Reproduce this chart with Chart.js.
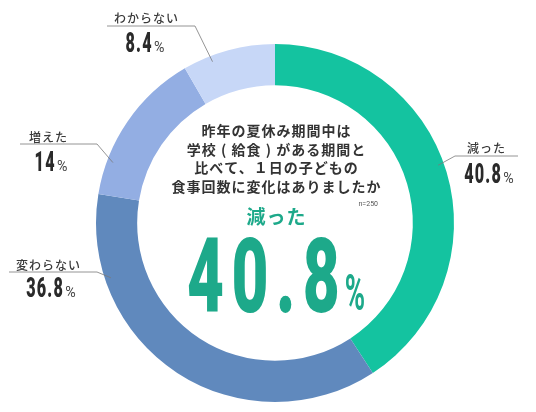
<!DOCTYPE html>
<html lang="ja">
<head>
<meta charset="utf-8">
<title>夏休み期間中の食事回数の変化</title>
<script src="https://cdn.jsdelivr.net/npm/chart.js@4.4.1/dist/chart.umd.min.js"></script>
<style>
  html, body { margin: 0; padding: 0; background: #ffffff; }
  #contenedor { width: 536px; height: 412px; }
</style>
</head>
<body>
<div id="contenedor"><canvas id="grafico1" width="536" height="412"></canvas></div>
<script>
//DATOS DEL GRÁFICO (PORCENTAJES, n=250).
const categorias = ['減った', '変わらない', '増えた', 'わからない'];
const porcentajes = [40.8, 36.8, 14, 8.4];
const preguntaLineas = ['昨年の夏休み期間中は', '学校 ( 給食 ) がある期間と', '比べて、１日の子どもの', '食事回数に変化はありましたか'];
const muestra = 'n=250';

//COLORES DE CADA SEGMENTO.
const colores = ['#14C3A0', '#6089BD', '#93AEE3', '#C7D7F7'];

//POSICIÓN DE LAS ETIQUETAS EXTERIORES (f = PUNTO DEL SEGMENTO DONDE TERMINA LA LÍNEA GUÍA).
const etiquetas = [
    { nombreX: 486, nombreY: 148, numeroX: 489, numeroY: 183, lineaX: [518, 455], lineaY: 156, f: 0.48 },
    { nombreX: 48,  nombreY: 265, numeroX: 51,  numeroY: 297, lineaX: [9, 97],    lineaY: 272, f: 0.79 },
    { nombreX: 48,  nombreY: 137, numeroX: 51,  numeroY: 171, lineaX: [20, 97],   lineaY: 144, f: 0.22 },
    { nombreX: 146, nombreY: 18,  numeroX: 145, numeroY: 52,  lineaX: [107, 195], lineaY: 26,  f: 0.30 }
];


//FUNCIÓN PARA DIBUJAR UN NÚMERO CONDENSADO SEGUIDO DEL SIGNO %.
function dibujarNumero(ctx, texto, cx, base, o) {
    ctx.save();
    ctx.textAlign = 'left';
    ctx.textBaseline = 'alphabetic';
    const fuenteNum = o.peso + ' ' + o.tam + 'px Roboto';
    const fuentePct = o.pesoPct + ' ' + o.tamPct + 'px Roboto';
    ctx.font = fuenteNum;
    ctx.letterSpacing = o.espacio + 'px';
    const anchoNum = (ctx.measureText(texto).width - o.espacio) * o.escala;
    ctx.letterSpacing = '0px';
    ctx.font = fuentePct;
    const anchoPct = ctx.measureText('%').width * o.escalaPct;
    const x0 = cx - (anchoNum + o.gap + anchoPct) / 2;

    ctx.save();
    ctx.fillStyle = o.color;
    ctx.font = fuenteNum;
    ctx.letterSpacing = o.espacio + 'px';
    ctx.translate(x0, base);
    ctx.scale(o.escala, 1);
    ctx.fillText(texto, 0, 0);
    ctx.restore();

    ctx.save();
    ctx.fillStyle = o.colorPct;
    ctx.font = fuentePct;
    ctx.letterSpacing = '0px';
    ctx.translate(x0 + anchoNum + o.gap, base + o.bajaPct);
    ctx.scale(o.escalaPct, 1);
    ctx.fillText('%', 0, 0);
    ctx.restore();
    ctx.restore();
}


//PLUGIN PARA LAS ETIQUETAS, LÍNEAS GUÍA Y TEXTO CENTRAL.
const pluginTextos = {
    id: 'textos',
    afterDraw(chart) {
        const ctx = chart.ctx;
        const arcos = chart.getDatasetMeta(0).data;
        const cx = arcos[0].x;
        const cy = arcos[0].y;

        //ETIQUETAS EXTERIORES.
        arcos.forEach((arco, i) => {
            const e = etiquetas[i];
            const p = arco.getProps(['startAngle', 'endAngle', 'outerRadius'], true);
            const ang = p.startAngle + e.f * (p.endAngle - p.startAngle);
            const r = p.outerRadius - 6;
            const px = cx + r * Math.cos(ang);
            const py = cy + r * Math.sin(ang);

            ctx.save();
            ctx.strokeStyle = '#7a7a7a';
            ctx.lineWidth = 0.8;
            ctx.beginPath();
            ctx.moveTo(e.lineaX[0], e.lineaY);
            ctx.lineTo(e.lineaX[1], e.lineaY);
            ctx.lineTo(px, py);
            ctx.stroke();

            ctx.fillStyle = '#3a3a3a';
            ctx.font = '500 12px "Noto Sans CJK JP"';
            ctx.letterSpacing = '1px';
            ctx.textAlign = 'center';
            ctx.textBaseline = 'middle';
            ctx.fillText(categorias[i], e.nombreX + 0.5, e.nombreY);
            ctx.restore();

            dibujarNumero(ctx, String(porcentajes[i]), e.numeroX, e.numeroY, {
                tam: 27, peso: '900', escala: 0.6, espacio: 2, color: '#2a2a2a',
                tamPct: 15, pesoPct: 'normal', escalaPct: 0.95, colorPct: '#444444',
                gap: 2.5, bajaPct: 0
            });
        });

        //PREGUNTA EN EL CENTRO.
        ctx.save();
        ctx.fillStyle = '#333333';
        ctx.font = 'bold 14px "Noto Sans CJK JP"';
        ctx.letterSpacing = '1px';
        ctx.textAlign = 'center';
        ctx.textBaseline = 'middle';
        const offsets = [-92, -73.5, -55, -36];
        preguntaLineas.forEach((linea, i) => {
            ctx.fillText(linea, cx + 1.5, cy + offsets[i]);
        });

        ctx.font = '7px Roboto';
        ctx.letterSpacing = '0px';
        ctx.fillStyle = '#555555';
        ctx.textAlign = 'right';
        ctx.fillText(muestra, cx + 103, cy - 19);

        //RESPUESTA PRINCIPAL.
        ctx.fillStyle = '#1DA98A';
        ctx.font = 'bold 19px "Noto Sans CJK JP"';
        ctx.letterSpacing = '1px';
        ctx.textAlign = 'center';
        ctx.fillText(categorias[0], cx + 1.5, cy - 6.5);
        ctx.restore();

        dibujarNumero(ctx, String(porcentajes[0]), cx + 1, cy + 89, {
            tam: 103, peso: '900', escala: 0.62, espacio: 12, color: '#1DA98A',
            tamPct: 50, pesoPct: 'bold', escalaPct: 0.55, colorPct: '#1DA98A',
            gap: 5, bajaPct: -2
        });
    }
};


//FUNCIÓN PARA GENERAR EL GRÁFICO DE DONA.
function generarGrafico() {
    const ctx = document.getElementById('grafico1');
    const config = {
        type: 'doughnut',
        data: {
            labels: categorias,
            datasets: [{
                data: porcentajes,
                backgroundColor: colores,
                borderWidth: 0,
                hoverOffset: 0
            }]
        },
        options: {
            responsive: false,
            animation: false,
            cutout: '77%',
            layout: {
                padding: { left: 96, right: 82, top: 44, bottom: 10 }
            },
            plugins: {
                legend: { display: false },
                tooltip: { enabled: false }
            }
        },
        plugins: [pluginTextos]
    };
    const grafico = new Chart(ctx, config);
}

generarGrafico();
</script>
</body>
</html>
